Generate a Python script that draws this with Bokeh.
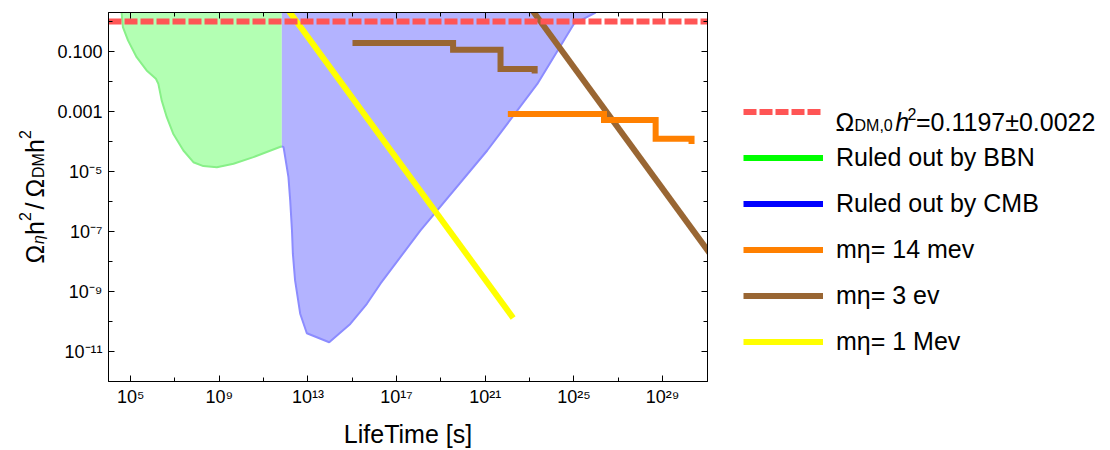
import numpy as np
from bokeh.plotting import figure
from bokeh.layouts import row
from bokeh.models import FixedTicker, LogAxis, Legend, LegendItem, Label, Range1d
from bokeh.embed import file_html
from bokeh.resources import INLINE

FONT = "Liberation Sans"

# ---------------- data (log10 values) ----------------
x_lim_log10 = [4.0, 31.03]           # LifeTime [s]
y_lim_log10 = [-12.0, 0.3]           # Omega_eta h^2 / Omega_DM h^2

x_tick_exps = [5, 9, 13, 17, 21, 25, 29]
x_tick_labels = ["10⁵", "10⁹", "10¹³", "10¹⁷", "10²¹", "10²⁵", "10²⁹"]
x_minor_exps = [7, 11, 15, 19, 23, 27]
y_tick_exps = [-1, -3, -5, -7, -9, -11]
y_tick_labels = ["0.100", "0.001", "10⁻⁵", "10⁻⁷", "10⁻⁹", "10⁻¹¹"]
y_minor_exps = [0, -2, -4, -6, -8, -10]

dm_level = 1.0                        # dashed reference line

bbn_lt_log10 = [4.59, 4.65, 4.88, 5.27, 5.72, 6.14, 6.25, 6.40, 6.63, 6.92,
                7.38, 7.83, 8.28, 8.89, 9.64, 10.54, 11.82]
bbn_om_log10 = [0.3, -0.19, -0.63, -1.19, -1.63, -1.91, -2.08, -2.63, -3.19, -3.74,
                -4.30, -4.69, -4.82, -4.86, -4.74, -4.52, -4.16]

cmb_lt_log10 = [11.82, 11.90, 12.12, 12.20, 12.28, 12.32, 12.42, 12.65, 12.95,
                13.96, 14.91, 15.66, 16.27, 18.07, 21.09, 23.35, 25.00, 25.98]
cmb_om_log10 = [-4.16, -4.19, -5.19, -5.97, -6.97, -7.74, -8.63, -9.74, -10.39,
                -10.69, -10.08, -9.41, -8.74, -6.97, -4.30, -2.08, -0.08, 0.3]

m14mev_lt_log10 = [22.02, 26.36, 28.69, 30.31]
m14mev_om_log10 = [-3.08, -3.28, -3.91, -4.08]

m3ev_step_lt_log10 = [15.01, 19.55, 21.69, 23.23]
m3ev_step_om_log10 = [-0.72, -0.94, -1.58, -1.73]
m3ev_diag_lt_log10 = [23.0, 31.5]
m3ev_diag_om_log10 = [0.5, -8.1]

m1mev_lt_log10 = [12.0, 22.26]
m1mev_om_log10 = [0.49, -9.88]

legend_labels = [" ", "Ruled out by BBN", "Ruled out by CMB",
                 "mη= 14 mev", "mη= 3 ev", "mη= 1 Mev"]
legend_colors = ["#ff5555", "#00ff00", "#0000ff", "#ff8000", "#996633", "#ffff00"]

def pw(a):
    return list(np.power(10.0, np.asarray(a, dtype=float)))

def ex(e):
    return float(f"1e{e}")

top_log10 = 0.5  # beyond the top of the frame (clipped)
H = 450

# ---------------- main figure ----------------
p = figure(width=669, height=H, x_axis_type="log", y_axis_type="log",
           x_range=Range1d(10 ** x_lim_log10[0], 10 ** x_lim_log10[1]),
           y_range=Range1d(10 ** y_lim_log10[0], 10 ** y_lim_log10[1]),
           output_backend="svg", toolbar_location=None,
           min_border_left=60, min_border_right=10, min_border_top=12, min_border_bottom=69)
p.grid.visible = False
p.outline_line_color = "black"
p.background_fill_color = "white"
p.border_fill_color = "white"

bbn_px = pw(bbn_lt_log10 + [bbn_lt_log10[-1], bbn_lt_log10[0]])
bbn_py = pw(bbn_om_log10 + [top_log10, top_log10])
p.patch(bbn_px, bbn_py, fill_color="#b3ffb3", line_color=None)
cmb_px = pw([cmb_lt_log10[0]] + cmb_lt_log10 + [cmb_lt_log10[-1]])
cmb_py = pw([top_log10] + cmb_om_log10 + [top_log10])
p.patch(cmb_px, cmb_py, fill_color="#b3b3ff", line_color=None)
p.line(pw(bbn_lt_log10), pw(bbn_om_log10), line_color="#88f088", line_width=2)
p.line(pw(cmb_lt_log10), pw(cmb_om_log10), line_color="#8c8cff", line_width=2)

p.line(pw(m1mev_lt_log10), pw(m1mev_om_log10), line_color=legend_colors[5], line_width=6)
p.line(pw(m3ev_diag_lt_log10), pw(m3ev_diag_om_log10), line_color=legend_colors[4], line_width=6)
p.step(pw(m3ev_step_lt_log10), pw(m3ev_step_om_log10), mode="after",
       line_color=legend_colors[4], line_width=6, line_join="miter")
p.step(pw(m14mev_lt_log10), pw(m14mev_om_log10), mode="after",
       line_color=legend_colors[3], line_width=6, line_join="miter")
p.line([10 ** x_lim_log10[0], 10 ** x_lim_log10[1]], [dm_level, dm_level],
       line_color=legend_colors[0], line_width=6, line_dash="13 3")

def style_axis(ax, ticks, minor, labels=None):
    ax.ticker = FixedTicker(ticks=[ex(e) for e in ticks], minor_ticks=[ex(e) for e in minor])
    ax.major_tick_in = 6
    ax.major_tick_out = 0
    ax.minor_tick_in = 4
    ax.minor_tick_out = 0
    ax.axis_line_color = "black"
    ax.major_tick_line_color = "black"
    ax.minor_tick_line_color = "black"
    if labels is not None:
        ax.major_label_overrides = {ex(e): t for e, t in zip(ticks, labels)}
        ax.major_label_text_font = FONT
        ax.major_label_text_font_size = "18px"
        ax.major_label_text_color = "black"
        ax.major_label_standoff = 6
    else:
        ax.major_label_text_font_size = "1px"
        ax.major_label_text_alpha = 0
        ax.major_label_standoff = 0

style_axis(p.xaxis[0], x_tick_exps, x_minor_exps, x_tick_labels)
style_axis(p.yaxis[0], y_tick_exps, y_minor_exps, y_tick_labels)
p.xaxis[0].major_label_standoff = 5
p.xaxis[0].axis_label = "LifeTime [s]"
p.xaxis[0].axis_label_text_font = FONT
p.xaxis[0].axis_label_text_font_size = "25px"
p.xaxis[0].axis_label_text_font_style = "normal"
p.xaxis[0].axis_label_text_color = "black"
p.xaxis[0].axis_label_standoff = 10

top_ax = LogAxis()
style_axis(top_ax, x_tick_exps, x_minor_exps)
p.add_layout(top_ax, "above")
right_ax = LogAxis()
style_axis(right_ax, y_tick_exps, y_minor_exps)
p.add_layout(right_ax, "right")

# ---------------- helper figures (y label, legend) ----------------
# In a row, Bokeh aligns the frames: helper frames span page y 12..381.
def blank(width):
    f = figure(width=width, height=H, x_range=Range1d(0, 1), y_range=Range1d(0, 1),
               output_backend="svg", toolbar_location=None,
               x_axis_location=None, y_axis_location=None, min_border=0)
    f.grid.visible = False
    f.outline_line_color = None
    f.background_fill_color = "white"
    f.border_fill_color = "white"
    return f

def lab(fig, x, y, text, size, style="normal", angle=0.0):
    fig.add_layout(Label(x=x, y=y, x_units="screen", y_units="screen", text=text,
                         text_font=FONT, text_font_size=f"{size}px", text_font_style=style,
                         text_color="black", text_baseline="alphabetic", text_align="left",
                         angle=angle))

yl = blank(48)
a = np.pi / 2
lab(yl, 34.7, 118, "Ω", 25, angle=a)
lab(yl, 38, 137.5, "η", 16, "italic", angle=a)
lab(yl, 34.7, 146.5, "h", 25, angle=a)
lab(yl, 24, 160.5, "2", 16, angle=a)
lab(yl, 34.7, 172, "/", 25, angle=a)
lab(yl, 34.7, 184, "Ω", 25, angle=a)
lab(yl, 38, 203.5, "DM", 16, angle=a)
lab(yl, 34.7, 228.5, "h", 25, angle=a)
lab(yl, 24, 242.5, "2", 16, angle=a)

lg = blank(393)
items = []
for i, (txt, col) in enumerate(zip(legend_labels, legend_colors)):
    r = lg.line(x=[np.nan], y=[np.nan], line_color=col, line_width=6,
                line_dash="13 3" if i == 0 else "solid")
    items.append(LegendItem(label=txt, renderers=[r]))
legend = Legend(items=items, location=(26, 25), padding=0, margin=0, spacing=17,
                glyph_width=80, glyph_height=29, label_height=29, label_standoff=13,
                label_text_font=FONT, label_text_font_size="25px", label_text_color="black",
                background_fill_alpha=0, border_line_alpha=0)
lg.add_layout(legend)
lab(lg, 118, 259.5, "Ω", 25)
lab(lg, 137, 256, "DM,0", 16)
lab(lg, 177.7, 259.5, "h", 25, "italic")
lab(lg, 190, 268, "2", 16)
lab(lg, 198.5, 259.5, "=0.1197±0.0022", 25)

layout = row(yl, p, lg)
open("out.html", "w").write(file_html(layout, INLINE))
